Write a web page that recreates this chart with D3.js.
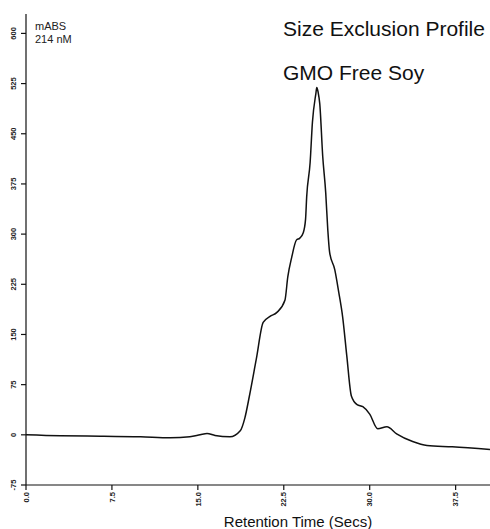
<!DOCTYPE html>
<html lang="en">
<head>
	<meta charset="utf-8">
	<script src="https://d3js.org/d3.v7.min.js"></script>
	<style>
		body { margin: 0; background: white; }
		svg { background: white; font-family: 'Liberation Sans', Arial, sans-serif; }
		.tick-label { font-size: 7.5px; font-weight: bold; fill: #222; }
		.trace { fill: none; stroke: #111; stroke-width: 1.5; stroke-linejoin: round; }
		.axis-line { stroke: #111; stroke-width: 1.2; }
	</style>
</head>
<body>
	<svg width="490" height="529"></svg>
	<script>
		// retention time (secs) and absorbance (mABS)
		const retentionTime = [0, 3, 6.5, 10, 12.6, 14.3, 15.2, 15.8, 16.5, 17.8, 18.7, 19.1, 19.5, 20.1, 20.7, 21.3,
			21.9, 22.6, 22.85, 23.2, 23.6, 23.9, 24.2, 24.4, 24.5, 24.8, 25.0, 25.3, 25.38, 25.5, 25.64, 25.9,
			26.16, 26.34, 26.5, 26.95, 27.3, 27.64, 28.0, 28.4, 28.9, 29.4, 30.0, 30.7, 31.5, 32.35, 33.75,
			35.0, 37.2, 40.5];
		const absorbance = [0, -1.5, -2, -3, -4.5, -3, 0, 2, -1, -3, 6, 25, 58, 113, 168, 177,
			183, 201, 236, 266, 291, 294, 302, 322, 356, 407, 467, 510, 519, 512, 495, 416,
			362, 307, 273, 247, 213, 176, 118, 58, 45, 42, 31, 9, 12, 1.5, -10,
			-16, -18, -22];
		const xTicks = [0, 7.5, 15, 22.5, 30, 37.5];
		const yTicks = [-75, 0, 75, 150, 225, 300, 375, 450, 525, 600];

		const svg = d3.select("svg");
		const x = d3.scaleLinear().domain([0, 40.5]).range([26, 490]);
		const y = d3.scaleLinear().domain([-75, 629]).range([485, 14]);

		// axes lines
		svg.append("line").attr("class", "axis-line")
			.attr("x1", x(0)).attr("x2", 490).attr("y1", y(-75)).attr("y2", y(-75));
		svg.append("line").attr("class", "axis-line")
			.attr("x1", x(0)).attr("x2", x(0)).attr("y1", y(629)).attr("y2", y(-75));

		// x ticks
		const xg = svg.append("g");
		xTicks.forEach(t => {
			xg.append("line").attr("class", "axis-line")
				.attr("x1", x(t)).attr("x2", x(t)).attr("y1", y(-75)).attr("y2", y(-75) + 5);
			xg.append("text").attr("class", "tick-label")
				.attr("text-anchor", "end")
				.attr("transform", `translate(${x(t) + 2.7},${y(-75) + 7}) rotate(-90)`)
				.text(t.toFixed(1));
		});

		// y ticks
		const yg = svg.append("g");
		yTicks.forEach(t => {
			yg.append("line").attr("class", "axis-line")
				.attr("x1", x(0) - 5).attr("x2", x(0)).attr("y1", y(t)).attr("y2", y(t));
			yg.append("text").attr("class", "tick-label")
				.attr("text-anchor", "middle")
				.attr("transform", `translate(${x(0) - 10},${y(t)}) rotate(-90)`)
				.text(t);
		});

		// trace
		const data = retentionTime.map((t, i) => ({ t: t, v: absorbance[i] }));
		svg.append("path").datum(data)
			.attr("class", "trace")
			.attr("d", d3.line().x(d => x(d.t)).y(d => y(d.v)).curve(d3.curveMonotoneX));

		// texts
		svg.append("text").attr("x", 35).attr("y", 30).attr("font-size", 11).attr("fill", "#222").text("mABS");
		svg.append("text").attr("x", 35).attr("y", 43).attr("font-size", 11).attr("fill", "#222").text("214 nM");
		svg.append("text").attr("x", 283).attr("y", 36).attr("font-size", 21).attr("fill", "#111").text("Size Exclusion Profile");
		svg.append("text").attr("x", 283).attr("y", 80).attr("font-size", 21).attr("fill", "#111").text("GMO Free Soy");
		svg.append("text").attr("x", 298).attr("y", 527).attr("text-anchor", "middle")
			.attr("font-size", 15).attr("fill", "#111").text("Retention Time (Secs)");
	</script>
</body>
</html>
